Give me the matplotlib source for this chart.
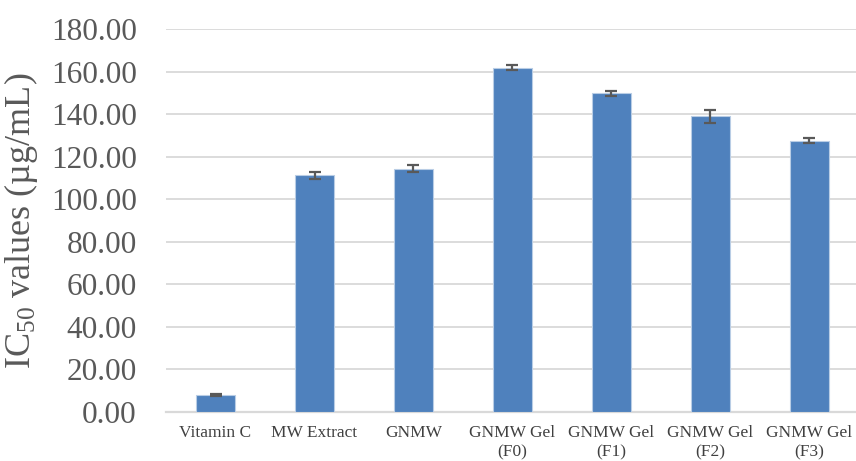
import matplotlib
matplotlib.use("Agg")
import matplotlib.pyplot as plt

# IC50 results per sample, mean and standard deviation
categories = ["Vitamin C", "MW Extract", "GNMW", "GNMW Gel\n(F0)",
              "GNMW Gel\n(F1)", "GNMW Gel\n(F2)", "GNMW Gel\n(F3)"]
ic50_mean = [7.9, 111.2, 114.4, 161.9, 149.8, 139.0, 127.5]
ic50_sd = [0.6, 1.6, 1.8, 1.0, 1.1, 3.0, 1.1]
yticks = [0, 20, 40, 60, 80, 100, 120, 140, 160, 180]

plt.rcParams["font.family"] = ["Liberation Serif", "DejaVu Serif"]
plt.rcParams["mathtext.fontset"] = "custom"
plt.rcParams["mathtext.rm"] = "Liberation Serif"
plt.rcParams["mathtext.it"] = "Liberation Serif:italic"

fig = plt.figure(figsize=(8.56, 4.61), dpi=100)
ax = fig.add_axes([166 / 856, 49 / 461, 693 / 856, 383 / 461])

x = range(len(categories))
ax.bar(x, ic50_mean, width=0.4, color="#4f81bd", edgecolor="#b9cde5",
       linewidth=0.8, zorder=3)
ax.errorbar(x, ic50_mean, yerr=ic50_sd, fmt="none", ecolor="#595959",
            elinewidth=1.6, capsize=4.5, capthick=1.6, zorder=4)

ax.set_xlim(-0.5, len(categories) - 0.5)
ax.set_ylim(0, 180)
ax.set_yticks(yticks)
ax.set_yticklabels([f"{v:.2f}" for v in yticks], fontsize=22.5, color="#595959")
ax.set_xticks(list(x))
ax.set_xticklabels(categories, fontsize=12.5, color="#404040", linespacing=1.3)
ax.tick_params(axis="both", length=0)
ax.tick_params(axis="x", pad=9)
ax.tick_params(axis="y", pad=21)

ax.grid(axis="y", color="#d9d9d9", linewidth=1.3, zorder=0)
for s in ["top", "right", "left"]:
    ax.spines[s].set_visible(False)
ax.spines["bottom"].set_color("#d9d9d9")
ax.spines["bottom"].set_linewidth(1.6)

ax.set_ylabel(r"IC$_{50}$ values (µg/mL)", fontsize=26, color="#595959",
              labelpad=8)

fig.savefig("out.png", dpi=100)
